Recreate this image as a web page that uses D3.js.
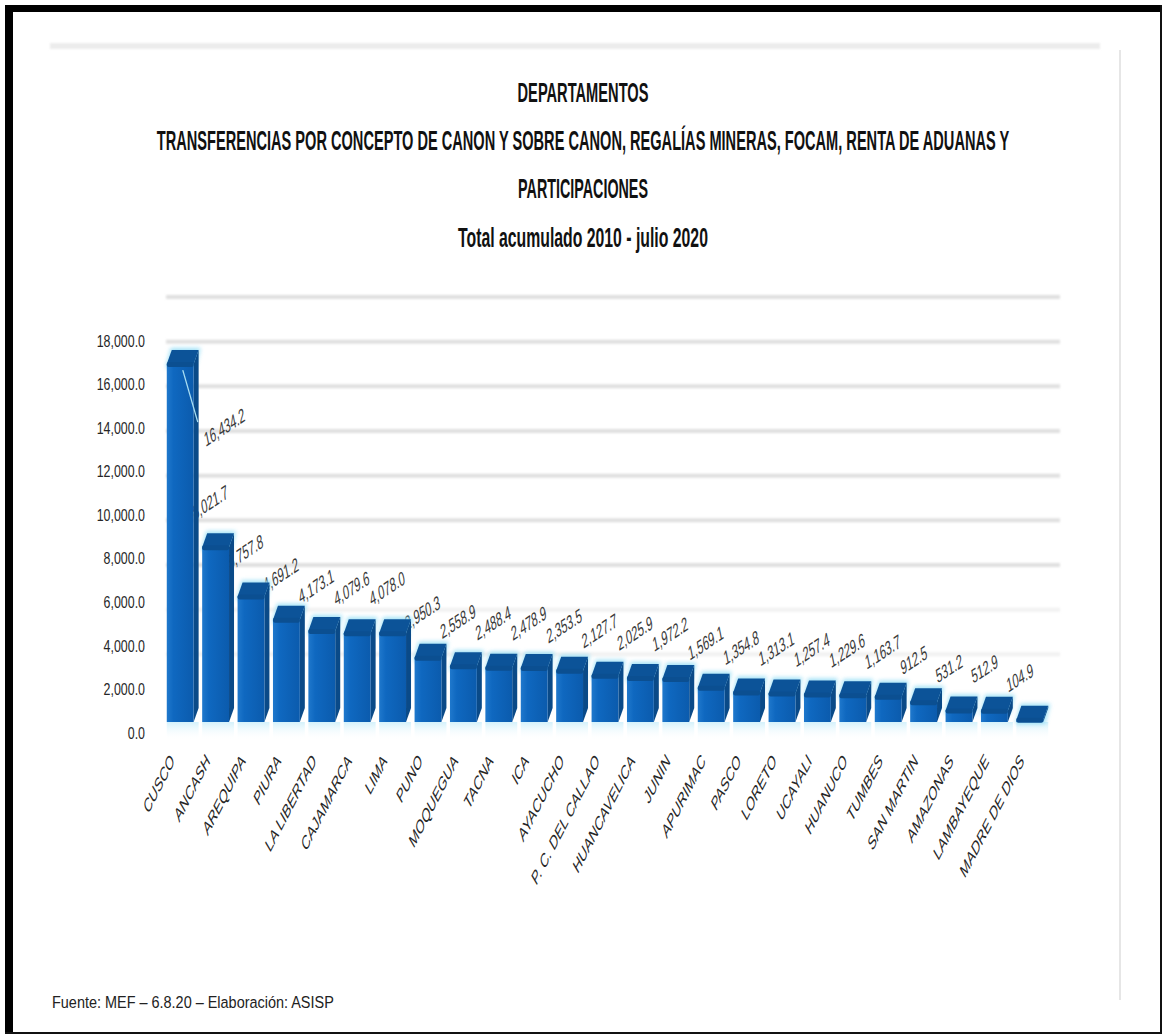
<!DOCTYPE html>
<html>
<head>
<meta charset="utf-8">
<script src="https://cdn.jsdelivr.net/npm/d3@7"></script>
<style>
  html, body { margin: 0; padding: 0; background: #fff; }
  svg { display: block; }
</style>
</head>
<body>
<svg id="chart" width="1164" height="1035"></svg>
<script>
// Transferencias acumuladas por departamento (millones de soles), 2010 - julio 2020
const departamentos = [
  "CUSCO", "ANCASH", "AREQUIPA", "PIURA", "LA LIBERTAD", "CAJAMARCA", "LIMA",
  "PUNO", "MOQUEGUA", "TACNA", "ICA", "AYACUCHO", "P. C. DEL CALLAO",
  "HUANCAVELICA", "JUNIN", "APURIMAC", "PASCO", "LORETO", "UCAYALI",
  "HUANUCO", "TUMBES", "SAN MARTIN", "AMAZONAS", "LAMBAYEQUE", "MADRE DE DIOS"
];
const transferencias = [
  16434.2, 8021.7, 5757.8, 4691.2, 4173.1, 4079.6, 4078.0,
  2950.3, 2558.9, 2488.4, 2478.9, 2353.5, 2127.7,
  2025.9, 1972.2, 1569.1, 1354.8, 1313.1, 1257.4,
  1229.6, 1163.7, 912.5, 531.2, 512.9, 104.9
];
const valorTicks = [0, 2000, 4000, 6000, 8000, 10000, 12000, 14000, 16000, 18000];
const titulos = [
  "DEPARTAMENTOS",
  "TRANSFERENCIAS POR CONCEPTO DE CANON Y SOBRE CANON, REGALÍAS MINERAS, FOCAM, RENTA DE ADUANAS Y",
  "PARTICIPACIONES",
  "Total acumulado 2010 - julio 2020"
];
const fuente = "Fuente: MEF – 6.8.20 – Elaboración: ASISP";

const W = 1164, H = 1035;
const svg = d3.select("#chart");
const sans = "'Liberation Sans','Arimo',Arial,sans-serif";

svg.append("rect").attr("width", W).attr("height", H).attr("fill", "#fff");

// ---- definitions: bar shading and soft glow ----
const defs = svg.append("defs");
const frontGrad = defs.append("linearGradient").attr("id", "frontGrad")
  .attr("x1", "0").attr("x2", "1").attr("y1", "0").attr("y2", "0");
frontGrad.append("stop").attr("offset", "0%").attr("stop-color", "#1f78cc");
frontGrad.append("stop").attr("offset", "25%").attr("stop-color", "#0f68c0");
frontGrad.append("stop").attr("offset", "100%").attr("stop-color", "#0b5bad");
const floorGrad = defs.append("linearGradient").attr("id", "floorGrad")
  .attr("x1", "0").attr("x2", "0").attr("y1", "0").attr("y2", "1");
floorGrad.append("stop").attr("offset", "0%").attr("stop-color", "#c9eefa");
floorGrad.append("stop").attr("offset", "100%").attr("stop-color", "#ffffff").attr("stop-opacity", 0);
defs.append("filter").attr("id", "glow").attr("x", "-30%").attr("y", "-30%")
  .attr("width", "160%").attr("height", "160%")
  .append("feGaussianBlur").attr("stdDeviation", 2.2);
defs.append("filter").attr("id", "soft").attr("filterUnits", "userSpaceOnUse")
  .attr("x", 0).attr("y", 0).attr("width", W).attr("height", H)
  .append("feGaussianBlur").attr("stdDeviation", 1.1);

// ---- page frame and faint scan marks ----
svg.append("rect").attr("x", 50).attr("y", 43).attr("width", 1050).attr("height", 6)
  .attr("fill", "#ececec").attr("filter", "url(#soft)");
svg.append("line").attr("x1", 1120).attr("x2", 1120).attr("y1", 50).attr("y2", 1000)
  .attr("stroke", "#e6e6e6").attr("stroke-width", 2);
svg.append("rect").attr("x", 5).attr("y", 5).attr("width", 1156).attr("height", 7).attr("fill", "#000");
svg.append("rect").attr("x", 5).attr("y", 5).attr("width", 8).attr("height", 1029).attr("fill", "#000");
svg.append("line").attr("x1", 1161).attr("x2", 1161).attr("y1", 5).attr("y2", 1034)
  .attr("stroke", "#111").attr("stroke-width", 2);
svg.append("line").attr("x1", 5).attr("x2", 1162).attr("y1", 1033).attr("y2", 1033)
  .attr("stroke", "#111").attr("stroke-width", 2);

// ---- titles: heavy condensed lines, squeezed horizontally to their widths ----
const titleY = [102, 150, 198, 247];
const titleLen = [131, 853, 130, 250];
svg.append("g").selectAll("text").data(titulos).join("text")
  .attr("text-anchor", "middle")
  .attr("font-family", sans).attr("font-weight", "bold").attr("font-size", 28)
  .attr("fill", "#111")
  .text(d => d)
  .attr("transform", function (d, i) {
    const natural = this.getComputedTextLength();
    return `translate(583,${titleY[i]}) scale(${titleLen[i] / natural},1)`;
  });

// ---- scales ----
const rows = departamentos.map((name, i) => ({ name, value: transferencias[i], i }));
const x = d3.scaleBand().domain(departamentos).range([165, 1050]).paddingInner(0.1).paddingOuter(0.05);
const y = d3.scaleLinear().domain([0, 18000]).range([732, 340]);      // front (axis) plane
const wall = d3.scaleLinear().domain([0, 18000]).range([699, 297]);   // back wall plane
const fmt = d3.format(",.1f");

// ---- back wall gridlines ----
svg.append("g").attr("filter", "url(#soft)")
  .selectAll("line").data(valorTicks.filter(v => v > 0)).join("line")
  .attr("x1", 166).attr("x2", 1060)
  .attr("y1", d => wall(d)).attr("y2", d => wall(d))
  .attr("stroke", "#e0e0e0").attr("stroke-width", 4)
  .attr("stroke-opacity", d => d >= 6000 ? 1 : 0.45);

// ---- value axis (labels only) ----
const yAxis = svg.append("g").attr("transform", "translate(145,0)")
  .call(d3.axisLeft(y).tickValues(valorTicks).tickSize(0).tickPadding(0).tickFormat(fmt));
yAxis.select(".domain").remove();
yAxis.selectAll(".tick text")
  .attr("x", 0).attr("dy", "0.36em")
  .attr("font-family", sans).attr("font-size", 17).attr("fill", "#262626")
  .attr("text-anchor", "end")
  .attr("transform", "scale(0.73,1)");

// ---- bar geometry ----
const sideW = 5, depthY = 14, drop = 10;
const bw = x.bandwidth() - sideW;
const floorY = y(0) - drop;
const topOf = d => y(d.value) - drop;

// value labels sit behind the columns (the next column may cover the first digit)
const labelG = svg.append("g");
labelG.selectAll("text").data(rows.filter(d => d.i > 0)).join("text")
  .attr("transform", d => `translate(${x(d.name) - 8},${y(d.value) - 37}) scale(0.55,1) rotate(-20)`)
  .attr("font-family", sans).attr("font-size", 20).attr("fill", "#3a3a3a")
  .text(d => fmt(d.value));

// floor reflection under each column
svg.append("g").selectAll("rect").data(rows).join("rect")
  .attr("x", d => x(d.name)).attr("y", floorY)
  .attr("width", x.bandwidth()).attr("height", 18)
  .attr("fill", "url(#floorGrad)").attr("opacity", 0.8);

const barG = svg.append("g").selectAll("g").data(rows).join("g");

// light halo around the top of each column
barG.append("path")
  .attr("d", d => {
    const x0 = x(d.name), t = topOf(d);
    return `M${x0 - 1},${t + 4} L${x0 + sideW - 1},${t - depthY - 2} L${x0 + bw + sideW + 2},${t - depthY - 2} L${x0 + bw + 2},${t + 4} Z`;
  })
  .attr("fill", "#8fdcf5").attr("opacity", 0.85).attr("filter", "url(#glow)");

// side face
barG.append("path")
  .attr("d", d => {
    const x0 = x(d.name) + bw, t = topOf(d);
    return `M${x0},${t} L${x0 + sideW},${t - depthY} L${x0 + sideW},${floorY - depthY} L${x0},${floorY} Z`;
  })
  .attr("fill", "#0a4a88");

// front face
barG.append("rect")
  .attr("x", d => x(d.name)).attr("y", d => topOf(d))
  .attr("width", bw).attr("height", d => floorY - topOf(d))
  .attr("fill", "url(#frontGrad)");

// top face
barG.append("path")
  .attr("d", d => {
    const x0 = x(d.name), t = topOf(d);
    return `M${x0},${t} L${x0 + sideW},${t - depthY} L${x0 + bw + sideW},${t - depthY} L${x0 + bw},${t} Z`;
  })
  .attr("fill", "#0c5398");

// rounded dark rim where the top meets the front
barG.append("rect")
  .attr("x", d => x(d.name)).attr("y", d => topOf(d) - 2)
  .attr("width", bw).attr("height", 5).attr("rx", 2)
  .attr("fill", "#0b4f91");

// label of the tallest column, moved aside with a leader line
const first = rows[0];
svg.append("line")
  .attr("x1", x(first.name) + 16).attr("y1", y(first.value) - 4)
  .attr("x2", x(first.name) + 31).attr("y2", y(first.value) + 48)
  .attr("stroke", "#a9def2").attr("stroke-width", 1.3);
svg.append("text")
  .attr("transform", `translate(${x(first.name) + x.bandwidth() + 7},${y(first.value) + 73}) scale(0.55,1) rotate(-20)`)
  .attr("font-family", sans).attr("font-size", 20).attr("fill", "#3a3a3a")
  .text(fmt(first.value));

// ---- category labels ----
svg.append("g").selectAll("text").data(rows).join("text")
  .attr("transform", d => `translate(${x(d.name) + bw / 2 - 5},762) scale(0.55,1) rotate(-47)`)
  .attr("text-anchor", "end")
  .attr("font-family", sans).attr("font-size", 20).attr("fill", "#262626")
  .text(d => d.name);

// ---- source ----
svg.append("text")
  .attr("font-family", sans).attr("font-size", 17).attr("fill", "#222")
  .text(fuente)
  .attr("transform", function () {
    return `translate(52,1008) scale(${282 / this.getComputedTextLength()},1)`;
  });
</script>
</body>
</html>
